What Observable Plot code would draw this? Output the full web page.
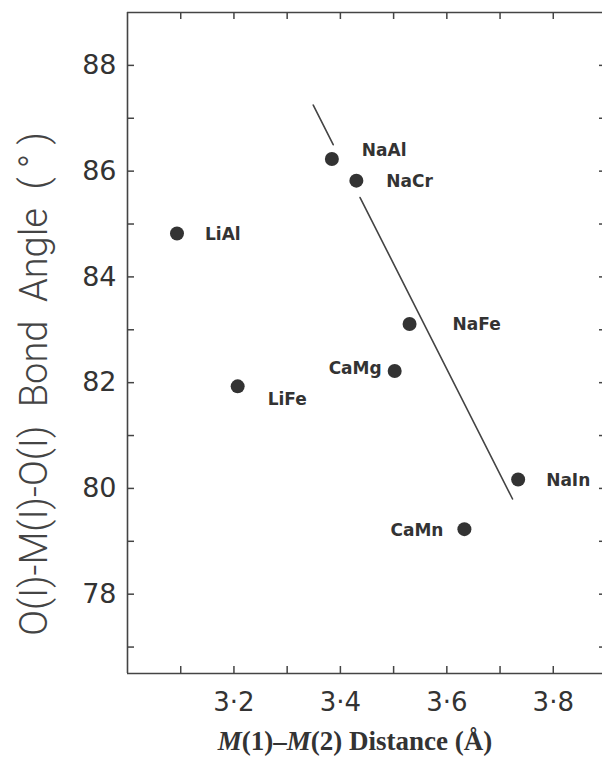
<!DOCTYPE html>
<html>
<head>
<meta charset="utf-8">
<script src="https://cdn.jsdelivr.net/npm/d3@7"></script>
<script src="https://cdn.jsdelivr.net/npm/@observablehq/plot@0.6"></script>
<style>
  html, body { margin: 0; padding: 0; background: #fff; }
  #wrap { position: relative; width: 602px; height: 761px; overflow: hidden; }
  #xtitle { position: absolute; left: 0; width: 710px; top: 726px; text-align: center;
    font-family: "Liberation Serif", "DejaVu Serif", serif; font-weight: bold; font-size: 27px; color: #333; }
</style>
</head>
<body>
<div id="wrap"><div id="chart"></div><div id="xtitle"><i>M</i>(1)–<i>M</i>(2) Distance (Å)</div></div>
<script>
// ---- data ----
const compounds = ["LiAl", "LiFe", "NaAl", "NaCr", "NaFe", "CaMg", "NaIn", "CaMn"];
const distance  = [3.093, 3.207, 3.384, 3.430, 3.530, 3.502, 3.734, 3.633];
const angle     = [84.82, 81.93, 86.23, 85.82, 83.11, 82.22, 80.17, 79.23];

// fitted trend line, drawn in two pieces (broken around the NaAl / NaCr labels)
const lineDistance = [3.349, 3.3865, 3.437, 3.7235];
const lineAngle    = [87.25, 86.50, 85.50, 79.80];
const lineSegment  = [0, 0, 1, 1];

const xDomain = [3.0, 3.9];
const yDomain = [76.5, 89];
const xTickValues  = [3.1, 3.2, 3.3, 3.4, 3.5, 3.6, 3.7, 3.8];
const xLabelValues = [3.2, 3.4, 3.6, 3.8];
const yTickValues  = [77, 78, 79, 80, 81, 82, 83, 84, 85, 86, 87, 88];
const yLabelValues = [78, 80, 82, 84, 86, 88];

// ---- presentation ----
const labelPlacement = {
  LiAl: {dx: 28, dy: 1, anchor: "start"},
  LiFe: {dx: 30, dy: 13, anchor: "start"},
  NaAl: {dx: 30, dy: -8, anchor: "start"},
  NaCr: {dx: 30, dy: 1, anchor: "start"},
  NaFe: {dx: 43, dy: 1, anchor: "start"},
  CaMg: {dx: -13, dy: -2, anchor: "end"},
  NaIn: {dx: 28, dy: 1, anchor: "start"},
  CaMn: {dx: -21, dy: 1, anchor: "end"}
};

const points = compounds.map((name, i) => ({name, distance: distance[i], angle: angle[i]}));
const trend = lineDistance.map((d, i) => ({distance: d, angle: lineAngle[i], seg: lineSegment[i]}));

const W = 602, H = 722, mL = 127, mR = -4, mT = 12, mB = 49;
const tickLen = 7;
const innerH = H - mT - mB, innerW = W - mL - mR;
const ink = "#333";
const fmt = d => d.toFixed(1).replace(".", "·");

const labelMarks = points.map(p => {
  const pl = labelPlacement[p.name];
  return Plot.text([p], {x: "distance", y: "angle", text: "name", dx: pl.dx, dy: pl.dy,
    textAnchor: pl.anchor, fontSize: 17, fontWeight: "bold", fill: ink,
    fontFamily: "DejaVu Sans", style: "letter-spacing:1.5px"});
});

const chart = Plot.plot({
  width: W, height: H,
  marginLeft: mL, marginRight: mR, marginTop: mT, marginBottom: mB,
  x: {domain: xDomain},
  y: {domain: yDomain},
  style: {background: "white", color: ink, fontFamily: "DejaVu Sans"},
  marks: [
    // frame: left, bottom and top edges (the right edge lies just outside the picture)
    Plot.ruleX([xDomain[0]], {x: d => d, stroke: "#444", strokeWidth: 1.6}),
    Plot.ruleY(yDomain, {y: d => d, stroke: "#444", strokeWidth: 1.6}),
    // inward ticks on all four sides
    Plot.tickX(xTickValues, {x: d => d, insetTop: innerH - tickLen, stroke: "#444", strokeWidth: 1.5}),
    Plot.tickX(xTickValues, {x: d => d, insetBottom: innerH - tickLen, stroke: "#444", strokeWidth: 1.5}),
    Plot.tickY(yTickValues, {y: d => d, insetRight: innerW - tickLen, stroke: "#444", strokeWidth: 1.5}),
    Plot.tickY(yTickValues, {y: d => d, insetLeft: innerW - tickLen, stroke: "#444", strokeWidth: 1.5}),
    Plot.axisX(xLabelValues, {anchor: "bottom", tickSize: 0, tickPadding: 19, tickFormat: fmt,
      fontSize: 26, label: null, fill: ink}),
    Plot.axisY(yLabelValues, {anchor: "left", tickSize: 0, tickPadding: 11, tickFormat: d => String(d),
      fontSize: 27, label: null, fill: ink}),
    Plot.text(["O(I)-M(I)-O(I)  Bond  Angle  ( ° )"], {frameAnchor: "left", text: d => d,
      rotate: -90, dx: -93, dy: 41, fontSize: 38, fontFamily: "Roboto", fontWeight: 300,
      fill: "#444", textAnchor: "middle", style: "letter-spacing:0.6px"}),
    Plot.line(trend, {x: "distance", y: "angle", z: "seg", stroke: "#444", strokeWidth: 1.6}),
    Plot.dot(points, {x: "distance", y: "angle", r: 7, fill: ink}),
    ...labelMarks
  ]
});
document.getElementById("chart").appendChild(chart);
</script>
</body>
</html>
